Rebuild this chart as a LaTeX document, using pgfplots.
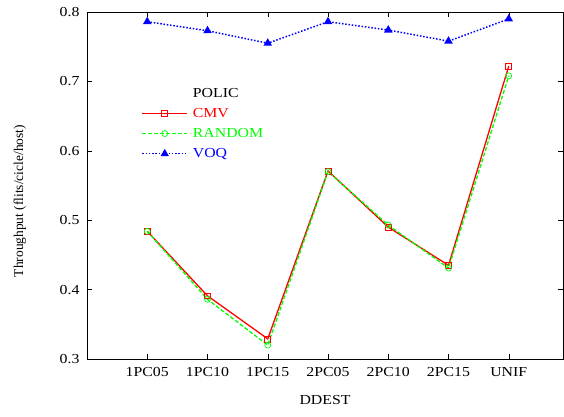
\documentclass[border=0pt]{standalone}
\usepackage{pgfplots}
\pgfplotsset{compat=1.18}
\usepackage{fontspec}
\setmainfont[FakeStretch=1.15]{Liberation Serif}
\newfontfamily\plainserif{Liberation Serif}
\begin{document}
\begin{tikzpicture}[font=\fontsize{13.8}{16}\selectfont]
\begin{axis}[
  name=ax,
  scale only axis,
  width=476bp, height=347bp,
  xmin=0, xmax=7.9, ymin=0.3, ymax=0.8,
  xtick={1,2,3,4,5,6,7},
  xticklabels={1PC05,1PC10,1PC15,2PC05,2PC10,2PC15,UNIF},
  ytick={0.3,0.4,0.5,0.6,0.7,0.8},
  yticklabel style={xshift=-4bp, /pgf/number format/.cd,fixed,fixed zerofill,precision=1},
  /pgf/number format/assume math mode=true,
  tick label style={font=\fontsize{13.8}{16}\selectfont},
  xticklabel style={yshift=-5bp},
  tick align=inside,
  major tick length=5bp,
  tick style={black, line width=0.5pt},
  axis line style={line width=0.8pt},
  xlabel={DDEST},
  ylabel={Throughput (flits/cicle/host)},
  every axis x label/.style={at={(axis description cs:0.5,-0.118)}, anchor=center, font=\fontsize{13.8}{16}\selectfont},
  every axis y label/.style={at={(axis description cs:-0.141,0.455)}, anchor=center, rotate=90, font=\plainserif\fontsize{13.5}{16}\selectfont},
  legend cell align=left,
  legend style={draw=none, fill=none, at={(0.108,0.79)}, anchor=north west,
    row sep=7.5bp, font=\fontsize{13.8}{16}\selectfont,
    nodes={inner xsep=5bp, inner ysep=1bp}},
  legend image code/.code={
    \draw[mark repeat=2,mark phase=2,line width=1.3pt] plot coordinates {(0bp,0bp)(22.5bp,0bp)(45bp,0bp)};
  },
]
\addlegendimage{empty legend}
\addlegendentry{POLIC}
\addplot[color=red, solid, line width=1.3pt, mark=square, mark size=3pt, mark options={solid, line width=0.7pt}]
  coordinates {(1,0.484)(2,0.391)(3,0.329)(4,0.571)(5,0.490)(6,0.435)(7,0.722)};
\addlegendentry{\textcolor{red}{CMV}}
\addplot[color=green, dash pattern=on 4pt off 2pt, line width=1.3pt, mark=o, mark size=3pt, mark options={solid, line width=0.7pt}]
  coordinates {(1,0.484)(2,0.386)(3,0.320)(4,0.570)(5,0.493)(6,0.431)(7,0.708)};
\addlegendentry{\textcolor{green}{RANDOM}}
\addplot[color=blue, dash pattern=on 1.5pt off 1.8pt, line width=1.5pt, mark=triangle*, mark size=3.5pt, mark options={solid}]
  coordinates {(1,0.786)(2,0.773)(3,0.755)(4,0.786)(5,0.774)(6,0.758)(7,0.790)};
\addlegendentry{\textcolor{blue}{VOQ}}
\end{axis}
\path[use as bounding box] ([xshift=-87bp,yshift=-57bp]ax.south west) rectangle ([xshift=1bp,yshift=12bp]ax.north east);
\end{tikzpicture}
\end{document}
